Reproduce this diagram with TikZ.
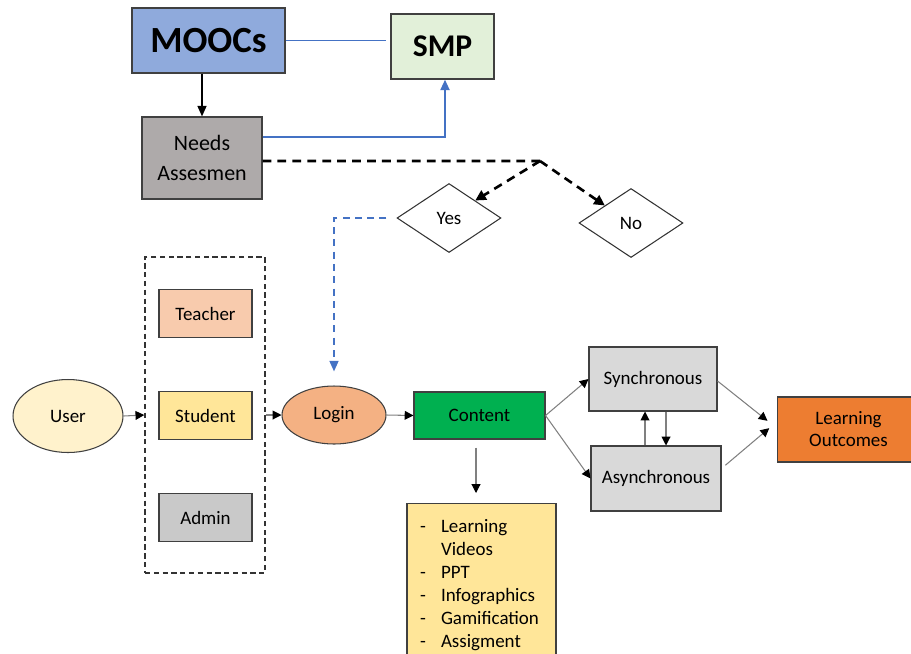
\documentclass[tikz,border=0pt]{standalone}
\usepackage{fontspec}
\setmainfont{Carlito}
\usepackage{tikz}
\usetikzlibrary{shapes.geometric, arrows.meta}

\definecolor{moocBlue}{HTML}{8FAADC}
\definecolor{smpGreen}{HTML}{E2F0D9}
\definecolor{needGray}{HTML}{AEAAAA}
\definecolor{teachPink}{HTML}{F8CBAD}
\definecolor{studYellow}{HTML}{FFE699}
\definecolor{adminGray}{HTML}{C9C9C9}
\definecolor{userCream}{HTML}{FFF2CC}
\definecolor{loginOrange}{HTML}{F4B183}
\definecolor{contentGreen}{HTML}{00B050}
\definecolor{modeGray}{HTML}{D9D9D9}
\definecolor{outOrange}{HTML}{ED7D31}
\definecolor{lineBlue}{HTML}{4472C4}

\tikzstyle{box} = [rectangle, minimum width=1.86cm, minimum height=0.96cm, text centered, draw=black!75, line width=0.6pt, font=\fontsize{10.8}{13}\selectfont]
\tikzstyle{oval} = [ellipse, text centered, draw=black!75, line width=0.6pt, font=\fontsize{10.8}{13}\selectfont]
\tikzstyle{choice} = [diamond, minimum width=2.08cm, minimum height=1.38cm, inner sep=0pt, draw=black!80, line width=0.6pt, font=\fontsize{10.8}{13}\selectfont]
\tikzstyle{arrow} = [draw=black!50, line width=0.6pt, -{Triangle[length=5pt,width=5pt,black]}]
\tikzstyle{blackArrow} = [draw=black, line width=1.1pt, -{Triangle[length=6pt,width=5pt]}]
\tikzstyle{blueLine} = [draw=lineBlue, line width=0.8pt]
\tikzstyle{blueArrow} = [draw=lineBlue, line width=1.4pt, -{Triangle[length=6pt,width=5pt]}]
\tikzstyle{blueDash} = [draw=lineBlue, line width=1.1pt, dash pattern=on 4pt off 3pt, -{Triangle[length=6pt,width=5pt]}]
\tikzstyle{dashLine} = [draw=black, line width=1.5pt, dash pattern=on 5pt off 3.5pt]
\tikzstyle{dashArrow} = [dashLine, -{Triangle[length=6pt,width=6pt]}]

\begin{document}
\begin{tikzpicture}[x=0.02cm, y=-0.02cm, node distance=2.04cm]
\useasboundingbox (0,0) rectangle (911,653);

\node (moocs) [box, fill=moocBlue, minimum width=3.06cm, minimum height=1.3cm, font=\fontsize{21}{24}\selectfont\bfseries] at (208.5,40.5) {MOOCs};
\node (smp) [box, fill=smpGreen, minimum width=2.06cm, minimum height=1.3cm, font=\fontsize{18}{21}\selectfont\bfseries] at (442.5,46.5) {SMP};
\node (needs) [box, fill=needGray, minimum width=2.4cm, minimum height=1.64cm, align=center, font=\fontsize{12.5}{17.5}\selectfont] at (202,158) {Needs\\Assesmen};

\coordinate (split) at (540,161);
\node (yes) [choice] at (449,218) {Yes};
\node (no) [choice] at (631,223) {No};

\node (user) [oval, fill=userCream, minimum width=2.2cm, minimum height=1.46cm] at (68,416) {User};
\node (roles) [rectangle, draw=black!80, line width=0.8pt, dash pattern=on 3pt off 2pt, minimum width=2.4cm, minimum height=6.32cm] at (205,415) {};
\node (student) [box, fill=studYellow] at (205.5,415.5) {Student};
\node (teacher) [box, fill=teachPink, above of=student] {Teacher};
\node (admin) [box, fill=adminGray, below of=student] {Admin};

\node (login) [oval, fill=loginOrange, minimum width=2.08cm, minimum height=1.16cm] at (334,415) {Login};
\node (content) [box, fill=contentGreen, minimum width=2.62cm, minimum height=0.94cm] at (479.5,415.5) {Content};
\node (media) [rectangle, draw=black!75, line width=0.6pt, fill=studYellow, anchor=north, minimum width=2.98cm, inner xsep=0.26cm, inner ysep=0.26cm, font=\fontsize{10.8}{13.1}\selectfont] at (481.5,503) {%
\begin{tabular}{@{}p{0.42cm}@{}p{2.04cm}@{}}
- & Learning\\
  & Videos\\
- & PPT\\
- & Infographics\\
- & Gamification\\
- & Assigment
\end{tabular}};

\node (sync) [box, fill=modeGray, minimum width=2.56cm, minimum height=1.28cm] at (653,379) {Synchronous};
\node (async) [box, fill=modeGray, minimum width=2.6cm, minimum height=1.3cm] at (656,478.5) {Asynchronous};
\node (outcome) [box, fill=outOrange, minimum width=2.86cm, minimum height=1.3cm, align=center, font=\fontsize{10.8}{12.5}\selectfont] at (848.5,429.5) {Learning\\Outcomes};

% top part
\draw [blueLine, shorten >=0.08cm] (moocs.east) -- (moocs.east -| smp.west);
\draw [blackArrow] (needs.north |- moocs.south) -- (needs.north);
\draw [blueArrow] ([yshift=0.42cm]needs.east) -| ([xshift=0.05cm]smp.south);
\draw [dashLine] ([yshift=-0.06cm]needs.east) -- (split);
\draw [dashArrow] (split) -- (yes.north east);
\draw [dashArrow] (split) -- (no.north west);
\draw [blueDash, shorten <=0.2cm, shorten >=0.28cm] (yes.west) -| (login.north);

% users and content
\draw [arrow] (user.east) -- (roles.west);
\draw [arrow] (roles.east) -- (login.west);
\draw [arrow] (login.east) -- (content.west);
\draw [arrow, shorten <=0.16cm, shorten >=0.2cm] ([xshift=-0.07cm]content.south) -- ([xshift=-0.07cm]content.south |- media.north);
\draw [arrow] (content.east) -- (sync.west);
\draw [arrow] (content.east) -- (async.west);
\draw [arrow] ([xshift=-0.22cm]async.north) -- ([xshift=-0.22cm]async.north |- sync.south);
\draw [arrow] ([xshift=0.26cm]sync.south) -- ([xshift=0.26cm]sync.south |- async.north);
\draw [arrow, shorten >=0.23cm] ([yshift=-0.04cm]sync.east) -- ([yshift=0.03cm]outcome.west);
\draw [arrow, shorten <=0.1cm, shorten >=0.19cm] ([yshift=0.2cm]async.east) -- ([yshift=0.15cm]outcome.west);
\end{tikzpicture}
\end{document}
